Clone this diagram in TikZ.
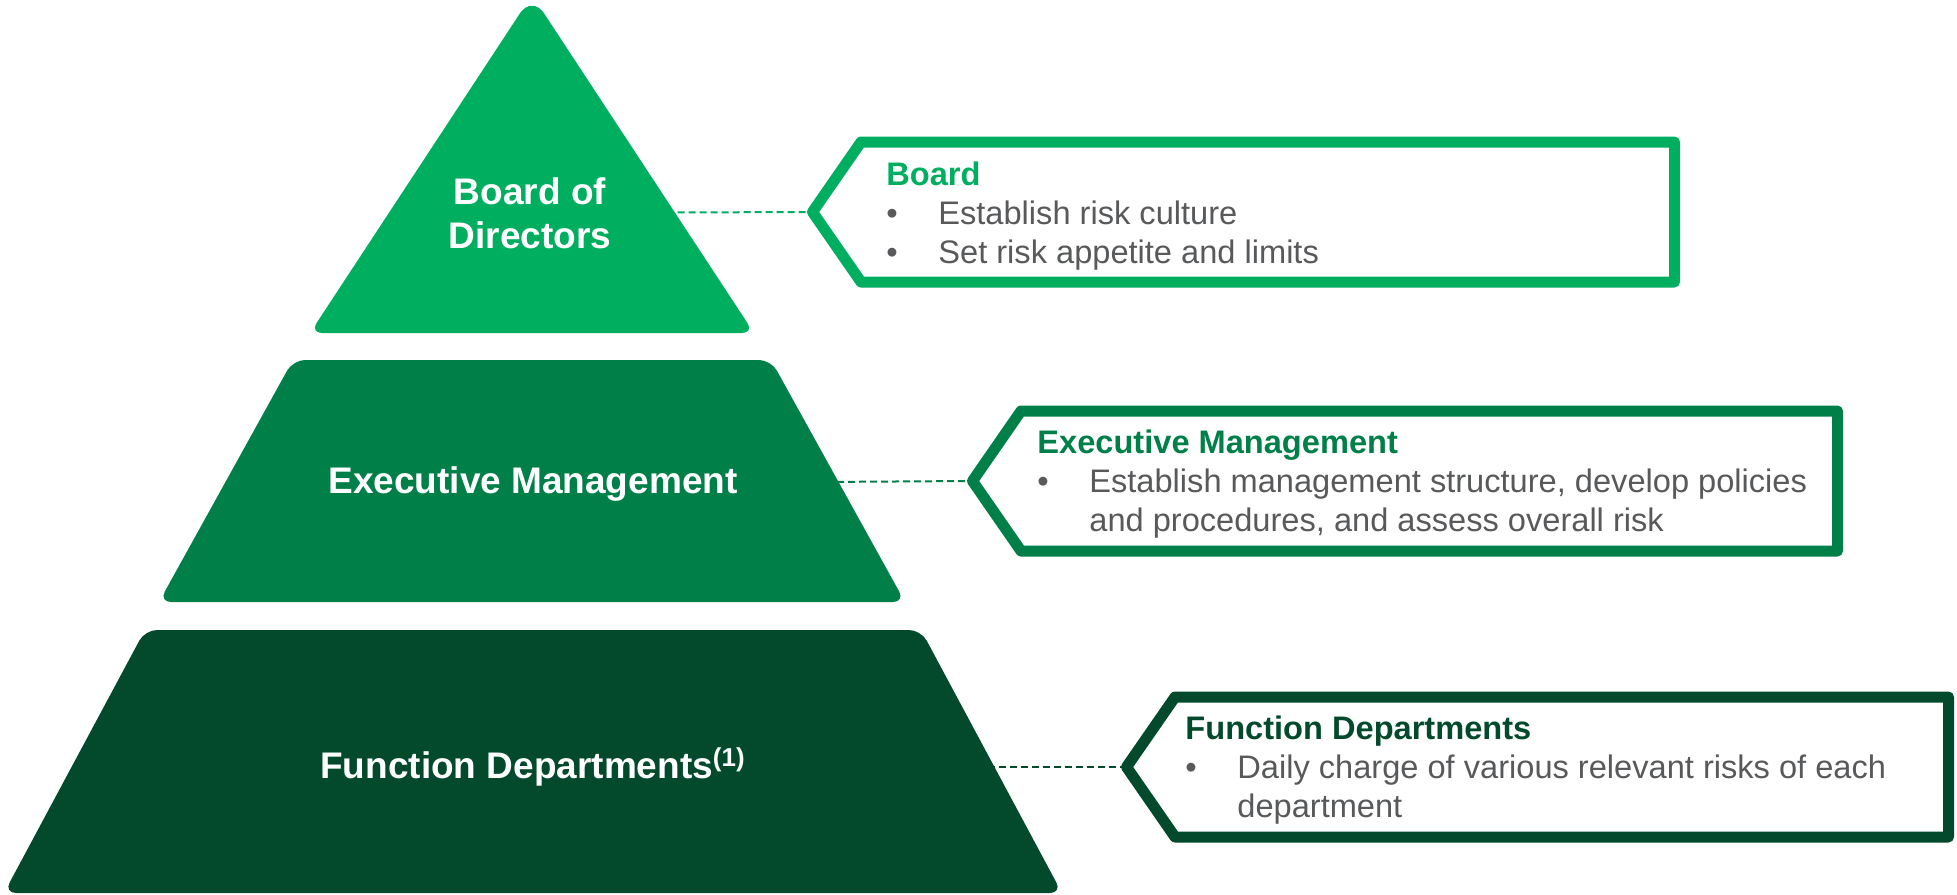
\documentclass[tikz,border=0pt]{standalone}
\usepackage{fontspec}
\setmainfont{Liberation Sans}
\usetikzlibrary{
	backgrounds		% Puts the pyramid and the links behind the labels
}

\definecolor{lvlone}{RGB}{0,174,96}
\definecolor{lvltwo}{RGB}{0,128,72}
\definecolor{lvlthree}{RGB}{2,74,43}
\definecolor{bodygrey}{RGB}{88,89,91}

\newcommand{\bpoint}{\makebox[26pt][l]{•}}
\newcommand{\bcont}{\hspace*{26pt}}

\begin{document}
\begin{tikzpicture}[
				x=0.5pt, y=-0.5pt,
				tier/.style={
					rounded corners=6pt
				},
				tierlabel/.style={
					text=white,
					inner sep=0,
					align=center,
					font=\fontsize{18.5}{22}\selectfont\bfseries
				},
				callout/.style={
					line width=5.5pt,
					line join=round
				},
				calloutlabel/.style={
					anchor=west,
					inner sep=0,
					align=left,
					text=bodygrey,
					font=\fontsize{16.3}{19.3}\selectfont
				},
				link/.style={
					line width=1pt,
					dash pattern=on 3.5pt off 2pt
				}]

			\useasboundingbox (0,0) rectangle (1957,894);

			%%% Callout outlines, one per level of the pyramid
			\foreach \lvl/\col/\tipx/\rgt/\ymid in {board/lvlone/807/1680/212, exec/lvltwo/967/1843/481, func/lvlthree/1121/1954/767} {
				\coordinate (\lvl tip) at (\tipx,\ymid);
				\draw [callout, draw=\col] (\tipx+5.5,\ymid) -- (\tipx+54,\ymid-70) -- (\rgt-5.5,\ymid-70)
					-- (\rgt-5.5,\ymid+70) -- (\tipx+54,\ymid+70) -- cycle;
			};

			%%% Labels on the pyramid
			\node [tierlabel] (boardlbl) at (530,213) {Board of\\Directors};
			\node [tierlabel] (execlbl) at (533,484) {Executive Management};
			\node [tierlabel] (funclbl) at (533,767) {Function Departments\textsuperscript{(1)}};

			%%% Texts in the callouts
			\node [calloutlabel] (boardtxt) at (886,216) {{\bfseries\color{lvlone}Board}\\
				\bpoint Establish risk culture\\
				\bpoint Set risk appetite and limits};
			\node [calloutlabel] (exectxt) at (1037,484) {{\bfseries\color{lvltwo}Executive Management}\\
				\bpoint Establish management structure, develop policies\\
				\bcont and procedures, and assess overall risk};
			\node [calloutlabel] (functxt) at (1185,770) {{\bfseries\color{lvlthree}Function Departments}\\
				\bpoint Daily charge of various relevant risks of each\\
				\bcont department};

			\begin{scope}[on background layer]
				% links run under the pyramid, so only their outer part shows
				\draw [link, draw=lvlone] (boardlbl) -- (boardtip);
				\draw [link, draw=lvltwo] (execlbl) -- (exectip);
				\draw [link, draw=lvlthree] (funclbl) -- (functip);

				% each outline starts mid-edge so every corner gets rounded; the apex a bit more
				\fill [tier, lvlone] (532,333) -- (310,333) [rounded corners=11pt] -- (532,-5) [rounded corners=6pt] -- (754,333) -- cycle;
				\fill [tier, lvltwo] (532,360) -- (771,360) -- (905,602) -- (159,602) -- (293,360) -- cycle;
				\fill [tier, lvlthree] (532,630) -- (921,630) -- (1062,893) -- (4,893) -- (145,630) -- cycle;
			\end{scope}

		\end{tikzpicture}
\end{document}
